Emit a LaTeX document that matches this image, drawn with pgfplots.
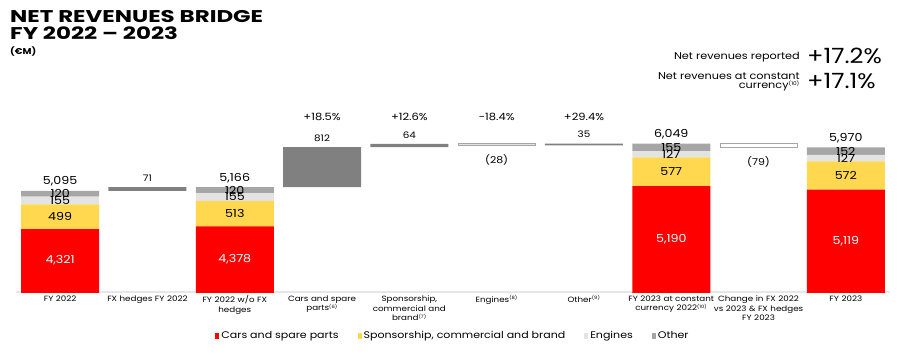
\documentclass[border=0pt]{standalone}
\usepackage{pgfplots}
\pgfplotsset{compat=1.18}
\usepackage{pgfplotstable}
\usepackage{fontspec}
\setmainfont{Poppins}
\newfontfamily\wide[FakeStretch=1.15]{Poppins}
\newfontfamily\xwide[FakeStretch=1.35]{Poppins}
\definecolor{cred}{HTML}{FF0000}
\definecolor{cyel}{HTML}{FFD84F}
\definecolor{ceng}{HTML}{E3E3E3}
\definecolor{coth}{HTML}{A6A6A6}
\definecolor{cflt}{HTML}{808080}
\definecolor{cline}{HTML}{E6E6E6}

\pgfplotstableread{
x base red yel eng oth flt
0 0 4321 499 155 120 0
1 5095 0 0 0 0 71
2 0 4378 513 155 120 0
3 5166 0 0 0 0 812
4 5978 0 0 0 0 64
5 0 0 0 0 0 0
6 6014 0 0 0 0 35
7 0 5190 577 127 155 0
8 0 0 0 0 0 0
9 0 5119 572 127 152 0
}\bars

\pgfplotstableread{
x base eng chg
5 6014 28 0
8 5970 0 79
}\outl

\pgfplotstableread{
x y l
0 3685 4,321
2 3714 4,378
7 4120 5,190
9 4085 5,119
}\lwhite

\pgfplotstableread{
x y l
0 4570 499
2 4634 513
7 5478 577
9 5405 572
0 4900 155
2 4971 155
7 5830 127
9 5754 127
0 5040 120
2 5111 120
7 5976 155
9 5897 152
}\linner

\pgfplotstableread{
x y l
0 5095 5,095
2 5166 5,166
7 6049 6,049
9 5970 5,970
}\ltot

\pgfplotstableread{
x y l
1 5166 71
3 5978 812
4 6042 64
6 6049 35
}\lpos

\pgfplotstableread{
x y l
5 6014 (28)
8 5970 (79)
}\lneg

\pgfplotstableread{
x y l
3 6586 +18.5
4 6586 +12.6
5 6586 -18.4
6 6586 +29.4
}\lpct

\pgfplotsset{commonax/.style={at={(16.5pt,62pt)}, anchor=south west, scale only axis,
  width=873pt, height=180.7pt, xmin=-0.5, xmax=9.5, ymin=3050, ymax=6700}}

\newcommand{\fn}[1]{\textsuperscript{\fontsize{4.5}{4.5}\selectfont(#1)}}

\begin{document}
\begin{tikzpicture}[x=1pt,y=1pt]
\useasboundingbox (0,0) rectangle (904,354);

\begin{axis}[commonax, ybar stacked, bar width=78pt,
  axis x line*=bottom, axis y line=none,
  x axis line style={draw=cline, line width=1.2pt},
  xtick={0,...,9},
  xticklabels={{FY 2022},{FX hedges FY 2022},{FY 2022 w/o FX\\hedges},{Cars and spare\\parts\fn{6}},{Sponsorship,\\commercial and\\brand\fn{7}},{Engines\fn{8}},{Other\fn{9}},{FY 2023 at constant\\currency 2022\fn{10}},{Change in FX 2022\\vs 2023 \& FX hedges\\FY 2023},{FY 2023}},
  xtick style={draw=none},
  xticklabel style={font=\wide\fontsize{7.6}{9.8}\selectfont, align=center, text width=90pt, anchor=north, yshift=0pt},
  legend columns=4,
  legend style={draw=none, fill=none, at={(0.5,-0.2435)}, anchor=center,
    font=\wide\fontsize{9.6}{11}\selectfont,
    /tikz/every even column/.append style={column sep=17pt}},
  legend image code/.code={\fill[#1] (0pt,-2.5pt) rectangle (4pt,3pt);},
  ]
\addplot[draw=none, fill=none, forget plot] table[x=x,y=base]{\bars};
\addplot[fill=cred, draw=none] table[x=x,y=red]{\bars};
\addlegendentry{Cars and spare parts}
\addplot[fill=cyel, draw=none] table[x=x,y=yel]{\bars};
\addlegendentry{Sponsorship, commercial and brand}
\addplot[fill=ceng, draw=none] table[x=x,y=eng]{\bars};
\addlegendentry{Engines}
\addplot[fill=coth, draw=none] table[x=x,y=oth]{\bars};
\addlegendentry{Other}
\addplot[fill=cflt, draw=none, forget plot] table[x=x,y=flt]{\bars};
\end{axis}

\begin{axis}[commonax, hide axis, ybar stacked, bar width=77pt]
\addplot[draw=none, fill=none] table[x=x,y=base]{\outl};
\addplot[fill=ceng, draw=coth, line width=0.8pt] table[x=x,y=eng]{\outl};
\addplot[fill=white, draw=coth, line width=0.8pt] table[x=x,y=chg]{\outl};
\end{axis}

\begin{axis}[commonax, hide axis, clip=false]
\addplot[only marks, mark=none, nodes near coords, point meta=explicit symbolic,
  nodes near coords style={anchor=center, text=white, font=\wide\fontsize{11}{11}\selectfont}]
  table[x=x,y=y,meta=l]{\lwhite};
\addplot[only marks, mark=none, nodes near coords, point meta=explicit symbolic,
  nodes near coords style={anchor=center, text=black, font=\wide\fontsize{11}{11}\selectfont}]
  table[x=x,y=y,meta=l]{\linner};
\addplot[only marks, mark=none, nodes near coords, point meta=explicit symbolic,
  nodes near coords style={anchor=south, text=black, yshift=1pt, font=\wide\fontsize{11}{11}\selectfont}]
  table[x=x,y=y,meta=l]{\ltot};
\addplot[only marks, mark=none, nodes near coords, point meta=explicit symbolic,
  nodes near coords style={anchor=south, text=black, yshift=2pt, font=\wide\fontsize{9}{9}\selectfont}]
  table[x=x,y=y,meta=l]{\lpos};
\addplot[only marks, mark=none, nodes near coords, point meta=explicit symbolic,
  nodes near coords style={anchor=north, text=black, yshift=-6pt, font=\wide\fontsize{9.5}{9.5}\selectfont}]
  table[x=x,y=y,meta=l]{\lneg};
\addplot[only marks, mark=none, nodes near coords={\pgfplotspointmeta\%}, point meta=explicit symbolic,
  nodes near coords style={anchor=center, text=black, font=\wide\fontsize{10}{10}\selectfont}]
  table[x=x,y=y,meta=l]{\lpct};
\end{axis}

\node[anchor=base west, inner sep=0, font=\xwide\fontsize{17}{17}\selectfont\bfseries] at (10,331.3) {NET REVENUES BRIDGE};
\node[anchor=base west, inner sep=0, font=\xwide\fontsize{17}{17}\selectfont\bfseries] at (10,314.7) {FY 2022 – 2023};
\node[anchor=base west, inner sep=0, font=\wide\fontsize{8.5}{8.5}\selectfont\bfseries] at (10,299.5) {(€M)};

\node[anchor=base east, inner sep=0, font=\wide\fontsize{9.8}{9.8}\selectfont] at (800,294.5) {Net revenues reported};
\node[anchor=base west, inner sep=0, font=\wide\fontsize{21}{21}\selectfont] at (807,290) {+17.2\%};
\node[anchor=base east, inner sep=0, font=\wide\fontsize{9.8}{9.8}\selectfont] at (800,274.5) {Net revenues at constant};
\node[anchor=base east, inner sep=0, font=\wide\fontsize{9.8}{9.8}\selectfont] at (800,265) {currency\textsuperscript{\fontsize{5}{5}\selectfont(10)}};
\node[anchor=base west, inner sep=0, font=\wide\fontsize{21}{21}\selectfont] at (807,265) {+17.1\%};
\end{tikzpicture}
\end{document}
